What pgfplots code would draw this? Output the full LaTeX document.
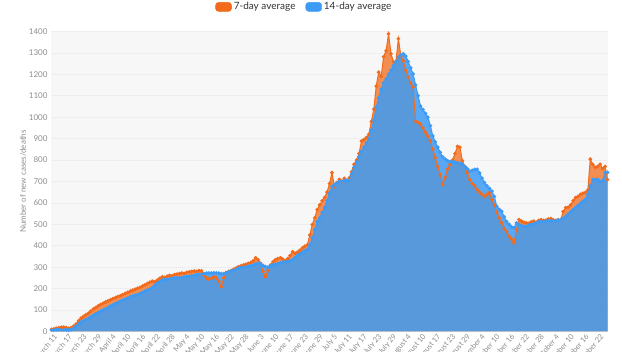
\documentclass[border=0pt]{standalone}
\usepackage{pgfplots}
\pgfplotsset{compat=1.18}
\usepackage{pgfplotstable}
\usepackage{fontspec}
\setmainfont{Lato}
\definecolor{oline}{HTML}{F26B1D}
\definecolor{bline}{HTML}{3D9BF5}
\definecolor{bgc}{HTML}{F7F7F7}
\definecolor{gridc}{HTML}{EEEEEE}
\definecolor{tickc}{HTML}{8C8C8C}
\definecolor{legc}{HTML}{333333}
\pgfplotstableread{
i o b
-2 10 6
-1 12 7
0 15 8
1 18 8
2 20 8
3 20 8
4 18 7
5 15 6
6 18 8
7 25 15
8 35 25
9 50 35
10 62 44
11 70 50
12 78 56
13 85 62
14 95 68
15 105 75
16 112 82
17 120 88
18 126 94
19 132 100
20 138 106
21 143 112
22 148 118
23 153 124
24 158 130
25 163 136
26 167 141
27 172 146
28 178 151
29 183 156
30 188 161
31 193 165
32 197 169
33 202 173
34 206 177
35 212 182
36 218 188
37 224 193
38 230 198
39 235 205
40 232 215
41 240 225
42 248 233
43 255 240
44 252 242
45 258 244
46 262 246
47 260 248
48 265 249
49 268 250
50 270 251
51 273 252
52 270 254
53 276 256
54 278 258
55 280 260
56 282 262
57 280 264
58 284 266
59 283 268
60 262 270
61 250 272
62 245 273
63 248 273
64 255 274
65 250 273
66 235 272
67 208 270
68 250 270
69 275 272
70 280 278
71 285 282
72 290 286
73 296 290
74 302 295
75 306 298
76 310 300
77 314 302
78 318 304
79 322 306
80 330 310
81 344 316
82 335 318
83 318 315
84 280 308
85 255 303
86 285 300
87 310 305
88 325 310
89 335 314
90 340 317
91 344 320
92 338 322
93 330 325
94 340 328
95 355 331
96 372 335
97 365 345
98 370 355
99 380 362
100 390 370
101 398 376
102 405 382
103 450 405
104 499 437
105 530 475
106 569 513
107 590 530
108 610 555
109 625 578
110 650 610
111 690 645
112 741 677
113 677 685
114 695 692
115 710 700
116 700 702
117 715 703
118 705 704
119 717 705
120 745 735
121 780 766
122 800 790
123 830 815
124 888 840
125 895 860
126 905 880
127 920 900
128 980 940
129 1037 985
130 1145 1047
131 1210 1090
132 1190 1130
133 1282 1160
134 1310 1178
135 1389 1200
136 1296 1220
137 1258 1240
138 1260 1258
139 1366 1280
140 1286 1290
141 1263 1296
142 1220 1285
143 1187 1260
144 1160 1230
145 1141 1202
146 980 1150
147 975 1100
148 967 1052
149 950 1035
150 930 1018
151 912 1000
152 890 960
153 850 912
154 810 885
155 770 860
156 733 836
157 686 815
158 720 805
159 758 797
160 780 793
161 800 790
162 830 790
163 864 788
164 860 785
165 797 780
166 770 770
167 740 760
168 709 748
169 690 752
170 680 756
171 663 757
172 650 740
173 640 715
174 631 695
175 640 680
176 649 668
177 616 655
178 590 630
179 556 584
180 530 570
181 507 561
182 480 535
183 467 513
184 445 500
185 430 488
186 414 485
187 474 507
188 522 500
189 515 495
190 510 490
191 507 490
192 505 495
193 512 500
194 515 503
195 510 506
196 518 510
197 522 513
198 518 514
199 520 515
200 525 515
201 527 515
202 520 517
203 518 518
204 522 519
205 522 520
206 560 528
207 578 537
208 580 548
209 590 558
210 610 568
211 625 578
212 630 588
213 640 598
214 645 608
215 649 616
216 660 640
217 804 680
218 780 709
219 766 710
220 770 710
221 780 700
222 760 705
223 770 742
224 709 742
}\data
\begin{document}
\begin{tikzpicture}
\useasboundingbox (0,0) rectangle (622pt,352pt);
\begin{axis}[
  at={(51pt,20.5pt)}, anchor=south west,
  scale only axis, width=557pt, height=300pt,
  xmin=-2.2, xmax=224.2, ymin=0, ymax=1400,
  axis background/.style={fill=bgc},
  axis line style={draw=none},
  major tick length=0pt,
  ymajorgrids, grid style={gridc, line width=0.6pt},
  ytick={0,100,...,1400},
  xtick={0,6,...,222},
  xticklabels={March 11,March 17,March 23,March 29,April 4,April 10,April 16,April 22,April 28,May 4,May 10,May 16,May 22,May 28,June 3,June 10,June 17,June 23,June 29,July 5,July 11,July 17,July 23,July 29,August 4,August 10,August 17,August 23,August 29,September 4,September 10,September 16,September 22,September 28,October 4,October 10,October 16,October 22},
  /pgf/number format/assume math mode=true,
  /pgf/number format/1000 sep={},
  yticklabel style={font=\fontsize{8}{9}\selectfont, text=tickc, xshift=0pt},
  xticklabel style={font=\fontsize{7.5}{9}\selectfont, text=tickc, rotate=50, anchor=east, yshift=-2pt},
  ylabel={Number of new cases/deaths},
  ylabel style={at={(axis description cs:-0.0503,0.5)}, anchor=center, font=\fontsize{8}{9}\selectfont, text=tickc},
  legend style={at={(axis description cs:0.455,1.082)}, anchor=center, draw=none, fill=none,
    font=\fontsize{10}{12}\selectfont, text=legc, legend columns=2,
    /tikz/every even column/.append style={column sep=8pt}},
  clip mode=individual,
]
\addlegendimage{legend image code/.code={\fill[oline, rounded corners=3pt] (0pt,-4.5pt) rectangle (16pt,4.5pt);}}
\addlegendentry{7-day average}
\addlegendimage{legend image code/.code={\fill[bline, rounded corners=3pt] (0pt,-4.5pt) rectangle (16pt,4.5pt);}}
\addlegendentry{14-day average}
\addplot[forget plot, draw=none, fill=oline, fill opacity=0.75] table[x=i,y=o] {\data} \closedcycle;
\addplot[forget plot, draw=none, fill=bline, fill opacity=0.85] table[x=i,y=b] {\data} \closedcycle;
\addplot[forget plot, oline, line width=1pt, mark=*, mark size=1.3pt, mark options={fill=oline, draw=oline}] table[x=i,y=o] {\data};
\addplot[forget plot, bline, line width=1pt, mark=*, mark size=1.3pt, mark options={fill=bline, draw=bline}] table[x=i,y=b] {\data};
\end{axis}
\end{tikzpicture}
\end{document}
